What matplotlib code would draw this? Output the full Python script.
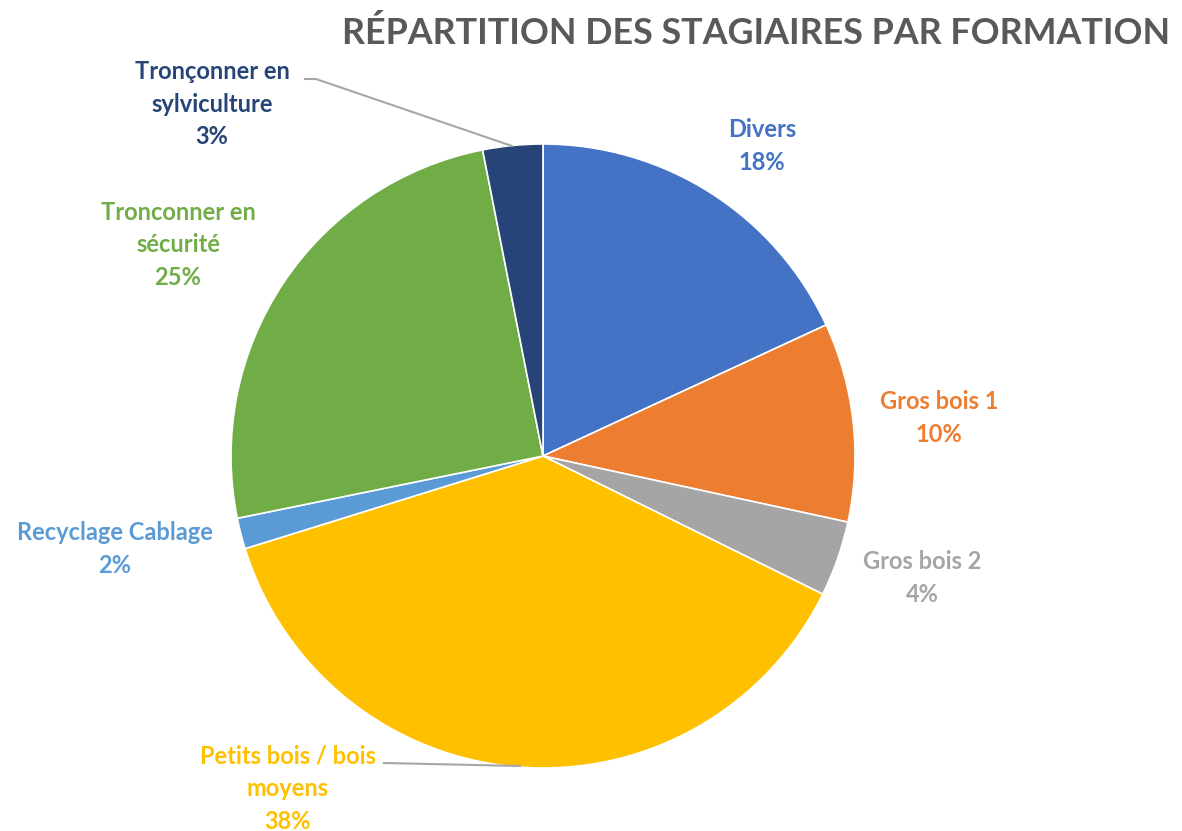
import matplotlib
matplotlib.use("Agg")
import matplotlib.pyplot as plt

# données (pourcentages)
categories = [
    "Divers",
    "Gros bois 1",
    "Gros bois 2",
    "Petits bois / bois\nmoyens",
    "Recyclage Cablage",
    "Tronconner en\nsécurité",
    "Tronçonner en\nsylviculture",
]
values = [18.1, 10.3, 3.9, 37.9, 1.6, 25.1, 3.1]
pct_labels = ["18%", "10%", "4%", "38%", "2%", "25%", "3%"]
colors = ["#4472C4", "#ED7D31", "#A5A5A5", "#FFC000", "#5B9BD5", "#70AD47", "#264478"]

W, H = 1182, 831
fig = plt.figure(figsize=(W / 100, H / 100), dpi=100)
ax = fig.add_axes([0, 0, 1, 1])

cx, cy, r = 543, H - 456, 312
ax.pie(values, colors=colors, startangle=90, counterclock=False,
       center=(cx, cy), radius=r, frame=True,
       wedgeprops=dict(edgecolor="white", linewidth=1.2))
ax.set_xlim(0, W)
ax.set_ylim(0, H)
ax.set_aspect("equal")
ax.axis("off")

# positions des étiquettes (pixels, origine en haut)
label_pos = [(762, 146), (939, 418), (922, 578), (288, 789),
             (115, 549), (178, 245), (212, 104)]
font = ["Lato", "DejaVu Sans"]
for cat, pct, col, (lx, ly) in zip(categories, pct_labels, colors, label_pos):
    ax.text(lx, H - ly, cat + "\n" + pct, ha="center", va="center",
            color=col, fontsize=17, fontweight="bold", family=font,
            linespacing=1.5)

# lignes de rappel
ax.plot([305, 316, 512], [H - 79, H - 79, H - 146], color="#A6A6A6", lw=1.5)
ax.plot([384, 520], [H - 763, H - 766], color="#A6A6A6", lw=1.5)

fig.text(756 / W, 1 - 33 / H, "RÉPARTITION DES STAGIAIRES PAR FORMATION",
         ha="center", va="center", fontsize=25.8, fontweight="bold",
         color="#595959", family=font)

fig.savefig("out.png", dpi=100)
